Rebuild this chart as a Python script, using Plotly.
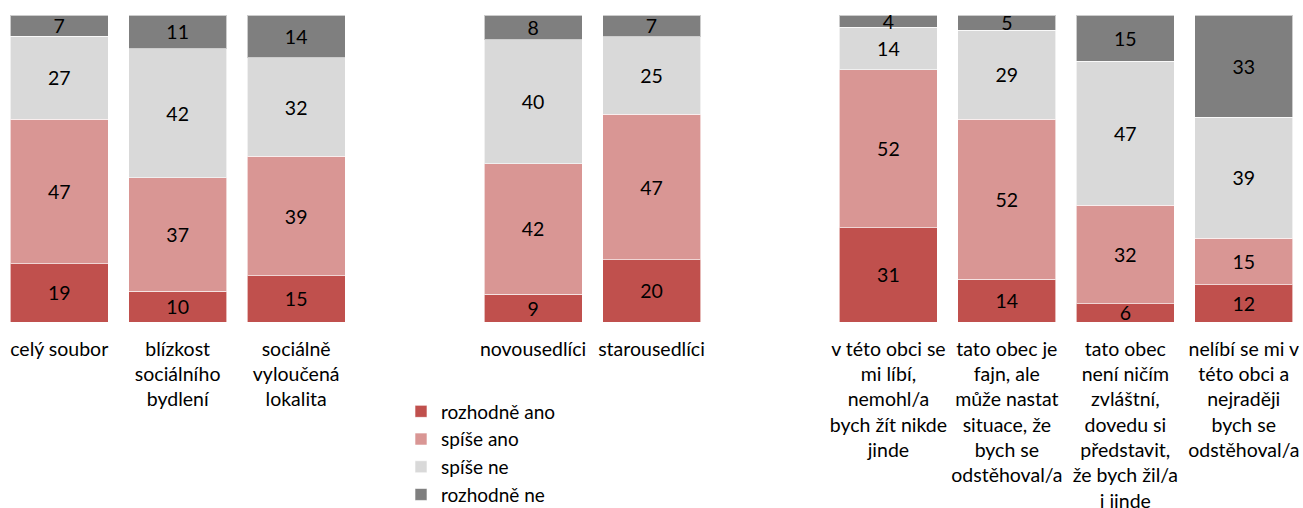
import plotly.graph_objects as go

categories = [
    "celý soubor",
    "blízkost<br>sociálního<br>bydlení",
    "sociálně<br>vyloučená<br>lokalita",
    " ",
    "novousedlíci",
    "starousedlíci",
    "  ",
    "v této obci se<br>mi líbí,<br>nemohl/a<br>bych žít nikde<br>jinde",
    "tato obec je<br>fajn, ale<br>může nastat<br>situace, že<br>bych se<br>odstěhoval/a",
    "tato obec<br>není ničím<br>zvláštní,<br>dovedu si<br>představit,<br>že bych žil/a<br>i jinde",
    "nelíbí se mi v<br>této obci a<br>nejraději<br>bych se<br>odstěhoval/a",
]
bar_categories = [c for c in categories if c.strip()]

series_names = ["rozhodně ano", "spíše ano", "spíše ne", "rozhodně ne"]
rozhodne_ano = [19, 10, 15, 9, 20, 31, 14, 6, 12]
spise_ano = [47, 37, 39, 42, 47, 52, 52, 32, 15]
spise_ne = [27, 42, 32, 40, 25, 14, 29, 47, 39]
rozhodne_ne = [7, 11, 14, 8, 7, 4, 5, 15, 33]
colors = ["#C0504D", "#D99694", "#D9D9D9", "#7F7F7F"]

FONT = "Lato, 'Open Sans', sans-serif"
FS = 19.5

fig = go.Figure()
for name, vals, col in zip(series_names, [rozhodne_ano, spise_ano, spise_ne, rozhodne_ne], colors):
    fig.add_trace(go.Bar(
        x=bar_categories, y=vals, name=name, legendgroup=name,
        marker=dict(color=col, line=dict(color="rgba(255,255,255,0.6)", width=1)),
        text=[str(v) for v in vals], texttemplate="%{text}",
        textposition="inside", insidetextanchor="middle", textangle=0,
        textfont=dict(family=FONT, size=FS, color="#000000"),
        hoverinfo="skip",
    ))

# figure is slightly taller than the 508px window (bottom is cropped, as in the reference)
W, H = 1303, 520
plot_top, plot_bottom = 15, 322
fig.update_layout(
    width=W, height=H,
    margin=dict(l=0, r=0, t=plot_top, b=H - plot_bottom),
    barmode="stack", barnorm="percent", bargap=1 - 98 / (W / len(categories)),
    plot_bgcolor="white", paper_bgcolor="white",
    font=dict(family=FONT, size=FS, color="#000000"),
    uniformtext=dict(minsize=FS, mode="show"),
    xaxis=dict(type="category", categoryorder="array", categoryarray=categories,
               range=[-0.5, len(categories) - 0.5], showgrid=False, showline=False,
               automargin=False, zeroline=False, ticks="", ticklabelstandoff=13,
               tickfont=dict(family=FONT, size=FS, color="#000000")),
    yaxis=dict(visible=False, range=[0, 100], automargin=False),
    legend=dict(x=401 / W, xanchor="left",
                y=(plot_bottom - 392.5) / (plot_bottom - plot_top), yanchor="top",
                traceorder="normal",
                font=dict(family=FONT, size=19, color="#000000"), tracegroupgap=0,
                bgcolor="rgba(0,0,0,0)"),
    showlegend=True,
)

fig.write_html(
    "out.html",
    config={"displayModeBar": False},
    post_script="document.body.style.margin='0';document.body.style.overflow='hidden';",
)
